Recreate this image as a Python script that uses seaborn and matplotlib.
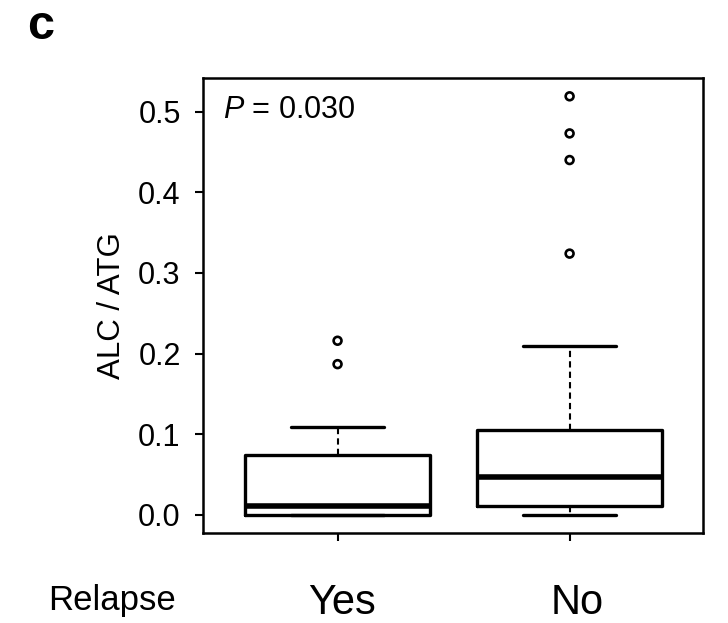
import matplotlib
matplotlib.use("Agg")
import matplotlib.pyplot as plt
import matplotlib.transforms as mtransforms
import seaborn as sns
import pandas as pd

# values (ALC / ATG by relapse status)
groups = ["Yes", "No"]
q1 = [0.0, 0.0116]
medians = [0.011, 0.047]
q3 = [0.0744, 0.105]
whisker_low = [0.0, 0.0]
whisker_high = [0.1095, 0.210]
outliers_yes = [0.187, 0.216]
outliers_no = [0.324, 0.440, 0.473, 0.519]
y_ticks = [0.0, 0.1, 0.2, 0.3, 0.4, 0.5]
p_label = "= 0.030"

sns.set_style("ticks")
plt.rcParams['font.family'] = ['Liberation Sans', 'DejaVu Sans']
plt.rcParams['mathtext.fontset'] = 'custom'
plt.rcParams['mathtext.it'] = 'Liberation Sans:italic'
plt.rcParams['mathtext.rm'] = 'Liberation Sans'
for key in ['text.color', 'axes.labelcolor', 'xtick.color', 'ytick.color', 'axes.edgecolor']:
    plt.rcParams[key] = 'black'

fig = plt.figure(figsize=(7.28, 6.23), dpi=100)
ax = fig.add_axes([0.2788, 0.1445, 0.6869, 0.7303])

stats = []
for i, g in enumerate(groups):
    stats.append({'label': g, 'q1': q1[i], 'med': medians[i], 'q3': q3[i],
                  'whislo': whisker_low[i], 'whishi': whisker_high[i], 'fliers': []})

ax.bxp(stats, positions=[0, 1], widths=0.8, capwidths=0.4, showfliers=False,
       boxprops=dict(color='black', linewidth=2.4),
       medianprops=dict(color='black', linewidth=4.0, solid_capstyle='butt'),
       whiskerprops=dict(color='black', linewidth=1.5, linestyle=(0, (3, 2))),
       capprops=dict(color='black', linewidth=2.4))

# outliers drawn as open circles
out_df = pd.DataFrame({
    'pos': [0] * len(outliers_yes) + [1] * len(outliers_no),
    'value': outliers_yes + outliers_no,
})
sns.scatterplot(data=out_df, x='pos', y='value', ax=ax, s=32, marker='o',
                facecolor='none', edgecolor='black', linewidth=1.9, zorder=5)

ax.set_xlim(-0.58, 1.575)
ax.set_ylim(-0.0223, 0.5417)
ax.set_yticks(y_ticks)
ax.set_yticklabels([f"{t:.1f}" for t in y_ticks])
ax.set_xticks([0, 1])
ax.set_xticklabels(groups)
ax.tick_params(axis='y', labelsize=22, length=6, width=1.5, pad=10, direction='out')
ax.tick_params(axis='x', labelsize=30, length=6, width=1.5, pad=30, direction='out')
# category labels sit a little right of their ticks in the reference
for lab, dx in zip(ax.get_xticklabels(), [4, 8]):
    lab.set_transform(lab.get_transform() + mtransforms.ScaledTranslation(dx / 100, 0, fig.dpi_scale_trans))
ax.set_xlabel("")
ax.set_ylabel("ALC / ATG", fontsize=22.5, labelpad=8)
for sp in ax.spines.values():
    sp.set_linewidth(1.8)
    sp.set_color('black')

ax.text(0.04, 0.93, r"$P$ " + p_label, transform=ax.transAxes, fontsize=22,
        ha='left', va='center')

fig.text(0.154, 0.021, "Relapse", fontsize=25, ha='center', va='baseline')
fig.text(0.037, 0.938, "c", fontsize=35, fontweight='heavy', ha='left', va='baseline')

fig.savefig("out.png", dpi=100)
